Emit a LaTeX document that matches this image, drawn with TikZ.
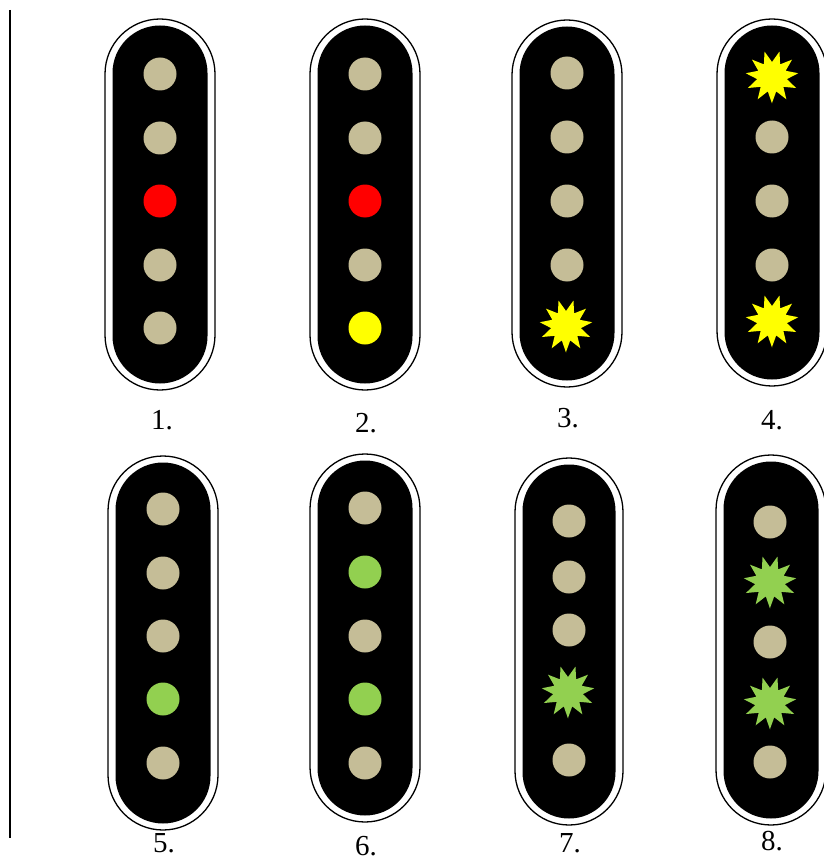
\documentclass[tikz,border=0pt]{standalone}
\usepackage{fontspec}
\setmainfont{Liberation Serif}
\usetikzlibrary{calc}
\definecolor{pole}{RGB}{197,189,151}
\definecolor{lgreen}{RGB}{146,208,80}
\definecolor{pred}{RGB}{255,0,0}
\definecolor{pyellow}{RGB}{255,255,0}
\newcommand{\pickupbody}[4]{%
  \pgfmathsetmacro{\hw}{#4}\pgfmathsetmacro{\hi}{#4-7.5}%
  \draw[outline,rounded corners=\hw pt] ({#1-\hw},#2) rectangle ({#1+\hw},#3);
  \fill[black,rounded corners=\hi pt] ({#1-\hi},{#2+6.5}) rectangle ({#1+\hi},{#3-6.5});
}
\newcommand{\dotat}[3]{\fill[#3] (#1,#2) circle[radius=16.5];}
\newcommand{\starat}[3]{%
  \fill[#3] (#1,#2) ++(90:26)
  \foreach \k in {0,...,10}{ -- ($(#1,#2)+({90+\k*360/11}:26.5)$) -- ($(#1,#2)+({90+(\k+0.5)*360/11}:15)$) } -- cycle;}
\tikzset{
  outline/.style={draw=black,line width=1.3pt,fill=white},
  lbl/.style={font=\fontsize{29}{30}\selectfont,inner sep=0pt}
}
\begin{document}
\begin{tikzpicture}[x=1pt,y=-1pt]
\useasboundingbox (0,0) rectangle (823,861);
\fill[white] (0,0) rectangle (823,861);
\draw[line width=2pt] (10,10) coordinate (vt) -- (10,838) coordinate (vb);
% pickup 1
\pickupbody{160}{19}{390}{55}
\dotat{160}{74}{pole}\dotat{160}{138}{pole}\dotat{160}{201}{pred}\dotat{160}{265}{pole}\dotat{160}{328}{pole}
\node[lbl] (l1) at (162,420) {1.};
% pickup 2
\pickupbody{365}{19}{390}{55}
\dotat{365}{74}{pole}\dotat{365}{138}{pole}\dotat{365}{201}{pred}\dotat{365}{265}{pole}\dotat{365}{328}{pyellow}
\node[lbl] (l2) at (366,423) {2.};
% pickup 3
\pickupbody{567}{20}{387}{55}
\dotat{567}{73}{pole}\dotat{567}{137}{pole}\dotat{567}{201}{pole}\dotat{567}{265}{pole}\starat{566}{326}{pyellow}
\node[lbl] (l3) at (568,418) {3.};
% pickup 4
\pickupbody{772}{19}{386}{55}
\starat{772}{77}{pyellow}\dotat{772}{137}{pole}\dotat{772}{201}{pole}\dotat{772}{265}{pole}\starat{772}{321}{pyellow}
\node[lbl] (l4) at (772,420) {4.};
% pickup 5
\pickupbody{163}{456}{830}{55}
\dotat{163}{509}{pole}\dotat{163}{573}{pole}\dotat{163}{636}{pole}\dotat{163}{699}{lgreen}\dotat{163}{763}{pole}
\node[lbl] (l5) at (164,843) {5.};
% pickup 6
\pickupbody{365}{454}{822}{55}
\dotat{365}{508}{pole}\dotat{365}{572}{lgreen}\dotat{365}{636}{pole}\dotat{365}{699}{lgreen}\dotat{365}{763}{pole}
\node[lbl] (l6) at (366,846) {6.};
% pickup 7
\pickupbody{569}{458}{825}{54}
\dotat{569}{521}{pole}\dotat{569}{577}{pole}\dotat{569}{630}{pole}\starat{568}{692}{lgreen}\dotat{569}{760}{pole}
\node[lbl] (l7) at (570,843) {7.};
% pickup 8
\pickupbody{771}{455}{825}{55}
\dotat{770}{522}{pole}\starat{770}{582}{lgreen}\dotat{770}{642}{pole}\starat{770}{703}{lgreen}\dotat{770}{762}{pole}
\node[lbl] (l8) at (772,841) {8.};
\end{tikzpicture}
\end{document}
